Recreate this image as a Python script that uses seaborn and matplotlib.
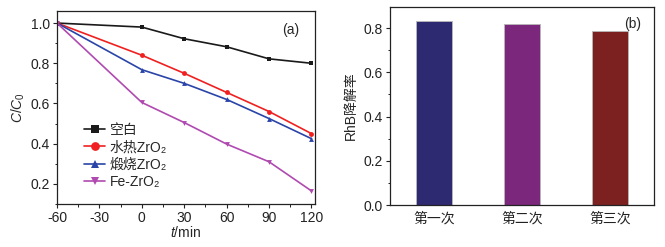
import matplotlib
matplotlib.use("Agg")
import matplotlib.pyplot as plt
import seaborn as sns
import pandas as pd
from matplotlib.ticker import MultipleLocator

sns.set_theme(style="ticks")
plt.rcParams['font.family'] = ['Liberation Sans', 'Noto Sans CJK SC', 'DejaVu Sans']
plt.rcParams['mathtext.fontset'] = 'custom'
plt.rcParams['mathtext.rm'] = 'Liberation Sans'
plt.rcParams['mathtext.it'] = 'Liberation Sans:italic'
plt.rcParams['axes.unicode_minus'] = False

# ---- data ----
times = [-60, 0, 30, 60, 90, 120]
blank = [1.0, 0.98, 0.922, 0.882, 0.822, 0.80]
hydro = [1.0, 0.84, 0.75, 0.655, 0.56, 0.45]
calc = [1.0, 0.768, 0.70, 0.62, 0.525, 0.425]
fe = [1.0, 0.605, 0.505, 0.398, 0.31, 0.165]
series_names = ["空白", "水热ZrO₂", "煅烧ZrO₂", "Fe-ZrO₂"]

cycles = ["第一次", "第二次", "第三次"]
rates = [0.83, 0.82, 0.785]

line_colors = ["#1a1a1a", "#f02020", "#2a44a8", "#b04ab0"]
bar_colors = ["#2e2a72", "#7b287c", "#7c2020"]
markers = ["s", "o", "^", "v"]

rows = []
for name, vals in zip(series_names, [blank, hydro, calc, fe]):
    for t, v in zip(times, vals):
        rows.append({"t": t, "C": v, "series": name})
df = pd.DataFrame(rows)
dfb = pd.DataFrame({"cycle": cycles, "rate": rates})

fig = plt.figure(figsize=(6.65, 2.47), dpi=100)
fs = 10

# ---- panel a ----
ax1 = fig.add_axes([57/665, 43/247, 258/665, 193/247])
sns.lineplot(data=df, x="t", y="C", hue="series", style="series",
             hue_order=series_names, style_order=series_names,
             palette=dict(zip(series_names, line_colors)),
             markers=dict(zip(series_names, markers)),
             dashes=False, markersize=3.5, linewidth=1.2,
             markeredgewidth=0, ax=ax1)
ax1.set_xlim(-60, 122.5)
ax1.set_ylim(0.1, 1.06)
ax1.set_xticks([-60, -30, 0, 30, 60, 90, 120])
ax1.set_yticks([0.2, 0.4, 0.6, 0.8, 1.0])
ax1.xaxis.set_minor_locator(MultipleLocator(15))
ax1.yaxis.set_minor_locator(MultipleLocator(0.1))
ax1.set_xlabel("$t$/min", fontsize=fs, labelpad=0)
ax1.set_ylabel("$C$/$C_0$", fontsize=fs, labelpad=3)
ax1.text(0.94, 0.94, "(a)", transform=ax1.transAxes, ha="right", va="top", fontsize=fs)
leg = ax1.legend(loc="upper left", bbox_to_anchor=(0.085, 0.45), frameon=False,
                 fontsize=fs, handlelength=1.5, handletextpad=0.3,
                 labelspacing=0.25, borderaxespad=0, markerscale=1.8)

# ---- panel b ----
ax2 = fig.add_axes([390/665, 42/247, 264/665, 198/247])
sns.barplot(data=dfb, x="cycle", y="rate", hue="cycle", palette=bar_colors,
            saturation=1, width=0.4, edgecolor="#b8b8b8", linewidth=0.6,
            legend=False, ax=ax2)
ax2.set_xlim(-0.5, 2.5)
ax2.set_ylim(0, 0.895)
ax2.set_yticks([0.0, 0.2, 0.4, 0.6, 0.8])
ax2.set_yticklabels(["0.0", "0.2", "0.4", "0.6", "0.8"])
ax2.yaxis.set_minor_locator(MultipleLocator(0.1))
ax2.set_xlabel("")
ax2.set_ylabel("RhB降解率", fontsize=fs, labelpad=4)
ax2.text(0.95, 0.95, "(b)", transform=ax2.transAxes, ha="right", va="top", fontsize=fs)

for ax in (ax1, ax2):
    for s in ax.spines.values():
        s.set_visible(True)
        s.set_linewidth(0.9)
        s.set_color("#222222")
    ax.tick_params(which="major", direction="out", length=3, width=0.8,
                   labelsize=fs, pad=2, top=False, right=False, colors="#222222")
    ax.tick_params(which="minor", direction="out", length=1.8, width=0.7,
                   top=False, right=False, colors="#222222")
    for lbl in ax.get_xticklabels() + ax.get_yticklabels():
        lbl.set_color("#222222")
ax2.tick_params(axis="x", which="both", length=0, pad=5)

fig.savefig("out.png", dpi=100)
